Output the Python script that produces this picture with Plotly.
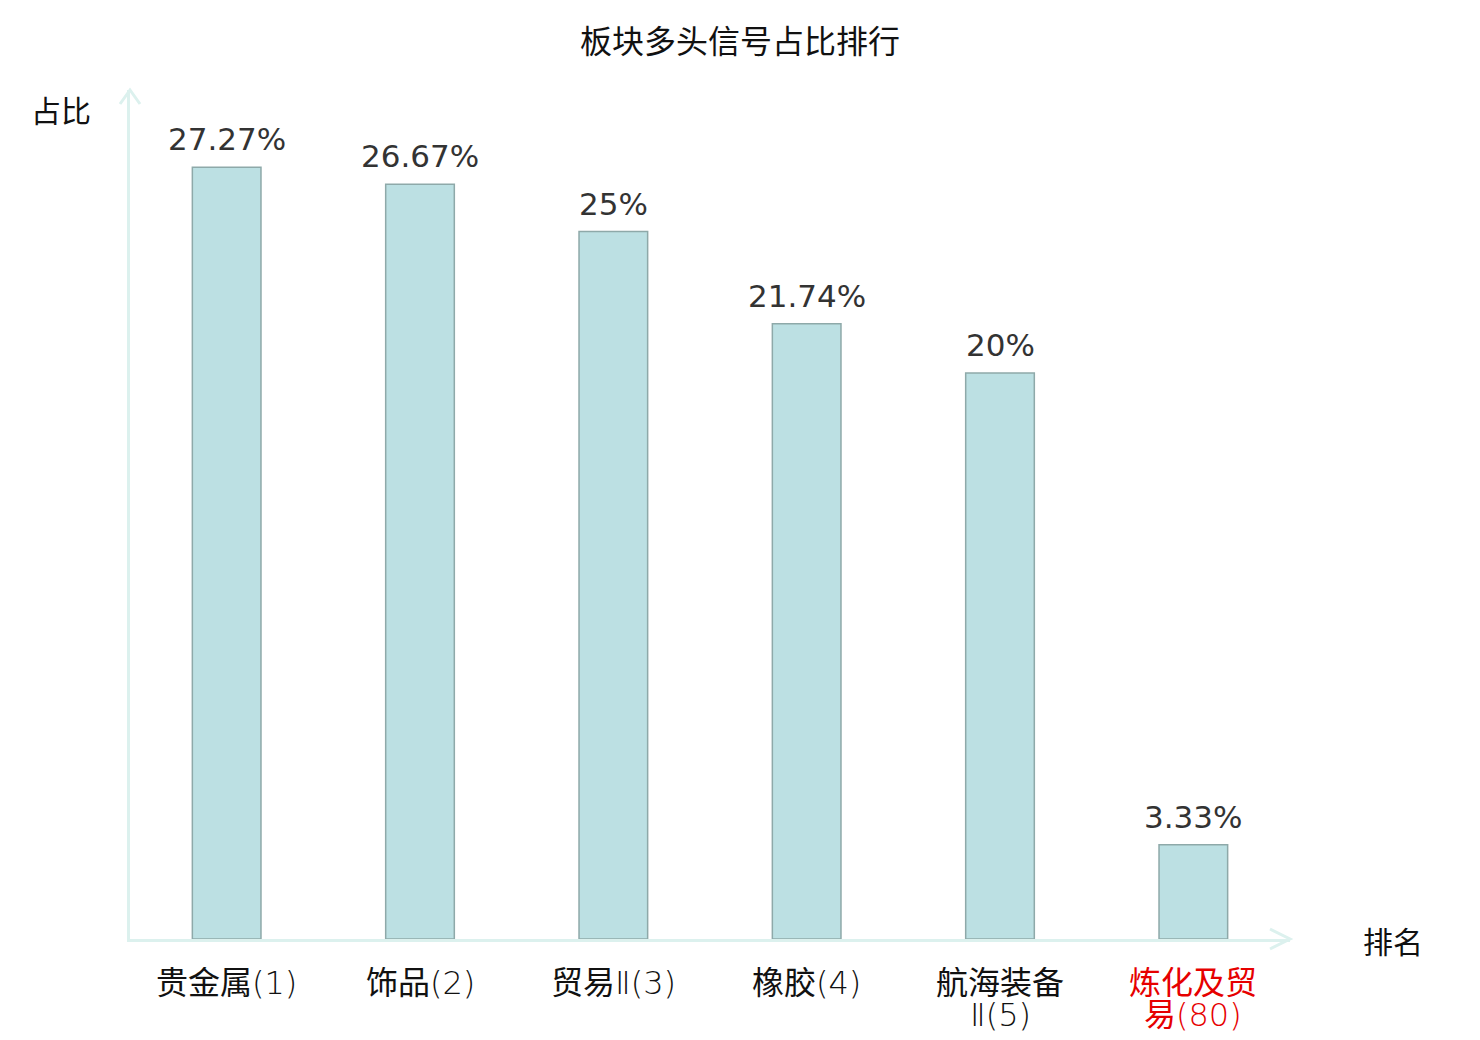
import plotly.graph_objects as go

title_text = "板块多头信号占比排行"
cat_names = ["贵金属", "饰品", "贸易", "橡胶", "航海装备", "炼化及贸"]
cat_suffix = ["(1)", "(2)", "Ⅱ(3)", "(4)", "", ""]
cat_line2 = ["", "", "", "", "Ⅱ(5)", "易(80)"]
label_colors = ["#111111", "#111111", "#111111", "#111111", "#111111", "#e60000"]
values = [27.27, 26.67, 25, 21.74, 20, 3.33]
value_labels = ["27.27%", "26.67%", "25%", "21.74%", "20%", "3.33%"]
y_name = "占比"
x_name = "排名"

AXIS_COLOR = "#dcf1ee"
FONT = "DejaVu Sans, Noto Sans CJK SC"
CJK = "Noto Sans CJK SC"


def styled(text):
    """Latin/digit parts thin, CJK parts regular."""
    out, buf, latin = "", "", None
    for ch in text:
        is_latin = ord(ch) < 0x3000
        if latin is None or is_latin == latin:
            buf += ch
        else:
            out += (f"<span style='font-weight:200'>{buf}</span>" if latin else buf)
            buf = ch
        latin = is_latin
    if buf:
        out += (f"<span style='font-weight:200'>{buf}</span>" if latin else buf)
    return out


x_idx = list(range(len(cat_names)))

fig = go.Figure()
fig.add_trace(go.Bar(
    x=x_idx, y=values, width=0.355,
    marker=dict(color="#bce0e3", line=dict(color="#8ea9a9", width=1.5)),
    hoverinfo="skip",
))

for i, (v, t) in enumerate(zip(values, value_labels)):
    fig.add_annotation(x=i, y=v, text=t, showarrow=False, yanchor="bottom",
                       yshift=8, font=dict(family="DejaVu Sans", size=31, color="#333333"))

for i, (n, s, l2, c) in enumerate(zip(cat_names, cat_suffix, cat_line2, label_colors)):
    fig.add_annotation(x=i, y=0, text=styled(n + s), showarrow=False, yanchor="middle",
                       yshift=-44, height=32, borderpad=0,
                       font=dict(family=FONT, size=32, color=c))
    if l2:
        fig.add_annotation(x=i, y=0, text=styled(l2), showarrow=False, yanchor="middle",
                           yshift=-76, height=32, borderpad=0,
                           font=dict(family=FONT, size=32, color=c))

fig.update_layout(
    width=1480, height=1040,
    margin=dict(l=130, r=190, t=90, b=101, pad=0),
    paper_bgcolor="white", plot_bgcolor="white",
    showlegend=False,
    title=dict(text=title_text, x=0.5, xanchor="center", y=1 - 42 / 1040, yanchor="middle",
               font=dict(family=CJK, size=32, color="#111111")),
    xaxis=dict(range=[-0.5, 5.5], tickmode="array", tickvals=x_idx, showticklabels=False,
               showgrid=False, zeroline=False, showline=True, linecolor=AXIS_COLOR, linewidth=3,
               ticks="", automargin=False),
    yaxis=dict(range=[0, 30], showgrid=False, zeroline=False, showline=True,
               linecolor=AXIS_COLOR, linewidth=3, showticklabels=False, ticks="",
               automargin=False),
)

# arrow heads (pixel offsets from axis ends)
fig.add_shape(type="path", xref="paper", yref="paper", xsizemode="pixel", ysizemode="pixel",
              xanchor=0, yanchor=1, path="M -10,-14 L 0,0 L 10,-14",
              line=dict(color=AXIS_COLOR, width=3))
fig.add_shape(type="path", xref="paper", yref="paper", xsizemode="pixel", ysizemode="pixel",
              xanchor=1, yanchor=0, path="M -20,10 L 0,0 L -20,-10",
              line=dict(color=AXIS_COLOR, width=3))

fig.add_annotation(xref="paper", yref="paper", x=0, y=1, xshift=-37, yshift=-19,
                   text=y_name, showarrow=False, xanchor="right", yanchor="middle",
                   font=dict(family=CJK, size=30, color="#111111"))
fig.add_annotation(xref="paper", yref="paper", x=1, y=0, xshift=71, yshift=-1,
                   text=x_name, showarrow=False, xanchor="left", yanchor="middle",
                   font=dict(family=CJK, size=30, color="#111111"))

fig.write_html("out.html", config={"displayModeBar": False},
               post_script="document.body.style.margin='0';document.body.style.overflow='hidden';")
